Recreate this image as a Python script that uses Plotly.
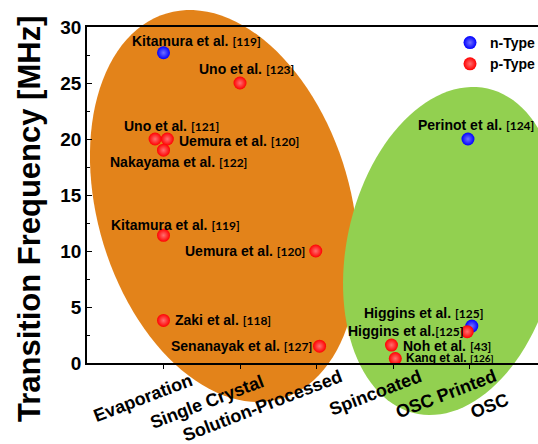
import numpy as np
import plotly.graph_objects as go

# ---------------- data ----------------
categories = ["Evaporation", "Single Crystal", "Solution-Processed", "Spincoated", "OSC Printed", "OSC"]
names = ["Kitamura et al.", "Uno et al.", "Uno et al.", "Uemura et al.", "Nakayama et al.",
         "Kitamura et al.", "Uemura et al.", "Zaki et al.", "Senanayak et al.", "Perinot et al.",
         "Higgins et al.", "Higgins et al.", "Noh et al.", "Kang et al."]
refs = ["119", "123", "121", "120", "122", "119", "120", "118", "127", "124", "125", "125", "43", "126"]
types = ["n", "p", "p", "p", "p", "p", "p", "p", "p", "n", "n", "p", "p", "p"]
x_pos = [1.0, 2.0, 0.89, 1.05, 1.0, 1.0, 2.99, 1.0, 3.04, 4.98, 5.03, 4.97, 3.98, 4.03]
freq = [27.7, 25.0, 20.0, 20.0, 19.0, 11.4, 10.0, 3.8, 1.5, 20.0, 3.3, 2.8, 1.6, 0.4]

# ---------------- layout constants ----------------
W, H = 538, 444
ML, MR, MT, MB = 87, 0, 27, 81
PW, PH = W - ML - MR, H - MT - MB
XSTEP = 76.5  # px per category
XR = [0, PW / XSTEP]
YR = [0, 30]

def px_to_paper(X, Y):
    return (X - ML) / PW, (H - MB - Y) / PH

# label placement: (xshift, yshift, xanchor, fontsize)
label_style = [(-34, 12, "left", 14), (-43, 14, "left", 14), (-33, 13, "left", 14),
               (10, -2, "left", 14), (-56, -11.5, "left", 14), (-55, 10.5, "left", 14),
               (-9, 0, "right", 14), (9, 0, "left", 14), (-6, 0.5, "right", 14),
               (-52, 14, "left", 14), (-110, 13, "left", 14), (-1, 1, "right", 14),
               (10, -0.5, "left", 14), (9, 0.8, "left", 12)]
no_space = {11}

fig = go.Figure()

# ellipses (decoration) in pixel space -> paper
def ellipse_path(cx, cy, a, b, phi_deg, tilt):
    phi = np.radians(phi_deg)
    u = np.array([tilt * np.sin(phi), -np.cos(phi)])
    v = np.array([np.cos(phi), tilt * np.sin(phi)])
    t = np.linspace(0, 2 * np.pi, 120)
    pts = [np.array([cx, cy]) + a * np.cos(tt) * u + b * np.sin(tt) * v for tt in t]
    pp = [px_to_paper(p[0], p[1]) for p in pts]
    return "M " + " L ".join(f"{x:.4f},{y:.4f}" for x, y in pp) + " Z"

fig.add_shape(type="path", xref="paper", yref="paper", layer="below",
              path=ellipse_path(224, 206, 201, 126.4, 16.6, -1),
              fillcolor="#E3831A", line=dict(width=0))
fig.add_shape(type="path", xref="paper", yref="paper", layer="below",
              path=ellipse_path(451.5, 251, 166.4, 104.8, 12.5, 1),
              fillcolor="#92D050", line=dict(width=0))

for t, nm, col, grad in [("n", "n-Type", "#0000FF", "#7070ff"), ("p", "p-Type", "#FF0000", "#ff7070")]:
    xs = [x for x, tt in zip(x_pos, types) if tt == t]
    ys = [y for y, tt in zip(freq, types) if tt == t]
    fig.add_trace(go.Scatter(x=xs, y=ys, mode="markers", name=nm,
                             marker=dict(size=13, color=col,
                                         gradient=dict(type="radial", color=grad),
                                         line=dict(width=0))))

for i, (nm, rf, x, y) in enumerate(zip(names, refs, x_pos, freq)):
    xs, ys, xa, fs = label_style[i]
    sep = "" if i in no_space else " "
    txt = (f"<b>{nm}</b>{sep}<span style='font-family:Lato;font-size:{fs-2}px'><b>[{rf}]</b></span>")
    fig.add_annotation(x=x, y=y, xref="x", yref="y", text=txt, showarrow=False,
                       xanchor=xa, yanchor="middle", xshift=xs, yshift=ys,
                       font=dict(family="Liberation Sans", size=fs, color="black"))

# rotated category labels (pixel centers)
cat_centers = [(143, 398), (207, 402), (262, 406), (375, 393), (446, 394), (489, 406)]
for lab, (cx, cy) in zip(categories, cat_centers):
    xp, yp = px_to_paper(cx, cy)
    fig.add_annotation(x=xp, y=yp, xref="paper", yref="paper", text=f"<b>{lab}</b>",
                       showarrow=False, textangle=-21, xanchor="center", yanchor="middle",
                       font=dict(family="Liberation Sans", size=18, color="black"))

# y title
xp, yp = px_to_paper(29, 219)
fig.add_annotation(x=xp, y=yp, xref="paper", yref="paper", text="<b>Transition Frequency [MHz]</b>",
                   showarrow=False, textangle=-90, xanchor="center", yanchor="middle",
                   font=dict(family="Liberation Sans", size=31, color="black"))

fig.update_layout(
    width=W, height=H, margin=dict(l=ML, r=MR, t=MT, b=MB, autoexpand=False),
    paper_bgcolor="white", plot_bgcolor="rgba(0,0,0,0)",
    font=dict(family="Liberation Sans", color="black"),
    legend=dict(x=(450 - ML) / PW, y=1, xanchor="left", yanchor="top",
                bgcolor="rgba(0,0,0,0)", tracegroupgap=0,
                font=dict(family="Liberation Sans", size=14, color="black", weight="bold")),
    xaxis=dict(range=XR, showgrid=False, zeroline=False, showline=True, linecolor="black",
               linewidth=1.5, mirror=True, ticks="outside", ticklen=4, tickcolor="black",
               tickvals=[1, 2, 3, 4, 5], showticklabels=False),
    yaxis=dict(range=YR, showgrid=False, zeroline=False, showline=True, linecolor="black",
               linewidth=1.5, ticks="inside", ticklen=5, tickcolor="black", dtick=5,
               tickfont=dict(family="Liberation Sans", size=19, color="black", weight="bold"),
               minor=dict(ticks="inside", ticklen=3, dtick=2.5, tickcolor="black")),
)

fig.write_html("out.html", config={"displayModeBar": False},
               post_script="document.body.style.margin='0';document.body.style.overflow='hidden';")
